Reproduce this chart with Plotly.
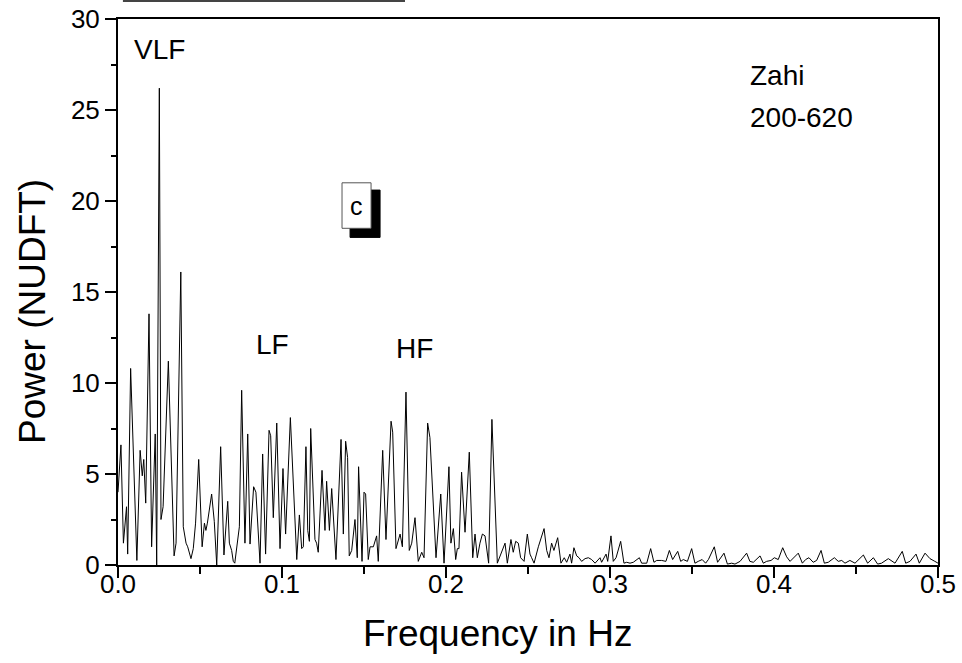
import plotly.graph_objects as go

# Frequency (Hz) and NUDFT power
freq = [
    0.0000, 0.0018, 0.0033, 0.0052, 0.0059, 0.0077, 0.0115, 0.0135, 0.0148, 0.0157,
    0.0169, 0.0189, 0.0205, 0.0227, 0.0236, 0.0252, 0.0262, 0.0275, 0.0307, 0.0342,
    0.0354, 0.0383, 0.0398, 0.0415, 0.0425, 0.0445, 0.0459, 0.0473, 0.0492, 0.0509,
    0.0513, 0.0527, 0.0536, 0.0545, 0.0571, 0.0587, 0.0602, 0.0626, 0.0646, 0.0669,
    0.0679, 0.0693, 0.0703, 0.0712, 0.0728, 0.0740, 0.0754, 0.0774, 0.0791, 0.0805,
    0.0827, 0.0841, 0.0866, 0.0882, 0.0900, 0.0921, 0.0931, 0.0947, 0.0968, 0.0988,
    0.1006, 0.1022, 0.1051, 0.1090, 0.1106, 0.1120, 0.1130, 0.1146, 0.1157, 0.1167,
    0.1175, 0.1201, 0.1211, 0.1221, 0.1244, 0.1262, 0.1272, 0.1289, 0.1303, 0.1329,
    0.1360, 0.1374, 0.1388, 0.1400, 0.1410, 0.1425, 0.1445, 0.1459, 0.1467, 0.1488,
    0.1500, 0.1510, 0.1526, 0.1537, 0.1557, 0.1577, 0.1587, 0.1614, 0.1634, 0.1665,
    0.1675, 0.1695, 0.1720, 0.1734, 0.1756, 0.1776, 0.1791, 0.1811, 0.1831, 0.1852,
    0.1866, 0.1888, 0.1902, 0.1939, 0.1968, 0.1988, 0.2018, 0.2030, 0.2045, 0.2059,
    0.2069, 0.2079, 0.2095, 0.2116, 0.2142, 0.2163, 0.2177, 0.2191, 0.2207, 0.2222,
    0.2238, 0.2260, 0.2280, 0.2313, 0.2360, 0.2374, 0.2396, 0.2410, 0.2425, 0.2441,
    0.2455, 0.2476, 0.2496, 0.2512, 0.2522, 0.2537, 0.2563, 0.2598, 0.2614, 0.2628,
    0.2644, 0.2658, 0.2681, 0.2701, 0.2721, 0.2736, 0.2756, 0.2766, 0.2780, 0.2797,
    0.2811, 0.2827, 0.2848, 0.2868, 0.2888, 0.2909, 0.2939, 0.2949, 0.2976, 0.2986,
    0.3006, 0.3020, 0.3037, 0.3065, 0.3085, 0.3102, 0.3122, 0.3142, 0.3179, 0.3193,
    0.3224, 0.3248, 0.3268, 0.3285, 0.3315, 0.3341, 0.3362, 0.3382, 0.3413, 0.3431,
    0.3447, 0.3472, 0.3498, 0.3518, 0.3538, 0.3562, 0.3583, 0.3600, 0.3636, 0.3656,
    0.3695, 0.3716, 0.3742, 0.3762, 0.3793, 0.3833, 0.3853, 0.3874, 0.3915, 0.3935,
    0.3955, 0.3982, 0.4002, 0.4026, 0.4053, 0.4077, 0.4098, 0.4148, 0.4173, 0.4193,
    0.4213, 0.4239, 0.4260, 0.4287, 0.4307, 0.4331, 0.4368, 0.4392, 0.4413, 0.4433,
    0.4463, 0.4494, 0.4545, 0.4571, 0.4606, 0.4632, 0.4656, 0.4697, 0.4738, 0.4782,
    0.4803, 0.4829, 0.4866, 0.4886, 0.4921, 0.4951, 0.4981, 0.5000,
]
power = [
    4.0, 6.6, 1.2, 3.2, 0.6, 10.8, 0.25, 6.3, 4.9, 5.8,
    3.4, 13.8, 1.0, 7.2, 0.0, 26.2, 2.5, 3.2, 11.2, 0.5,
    1.2, 16.1, 2.1, 1.2, 1.0, 0.35, 0.9, 2.3, 5.8, 1.5,
    1.0, 2.3, 1.9, 2.3, 3.9, 2.4, 0.0, 6.5, 0.55, 3.5,
    1.2, 0.8, 0.2, 0.1, 1.2, 2.1, 9.6, 1.2, 7.2, 1.15,
    4.3, 4.0, 0.1, 6.1, 0.6, 7.4, 7.1, 2.6, 7.8, 0.9,
    5.3, 1.7, 8.1, 0.3, 2.75, 0.9, 1.0, 6.5, 1.9, 1.3,
    7.5, 1.4, 1.2, 0.7, 5.2, 1.9, 4.6, 1.9, 4.2, 0.3,
    6.9, 1.7, 6.8, 5.9, 0.5, 0.8, 2.5, 0.4, 5.4, 0.2,
    4.0, 3.9, 0.3, 1.0, 1.0, 1.6, 0.2, 6.3, 1.4, 7.9,
    7.3, 0.9, 1.7, 1.0, 9.5, 0.8, 1.2, 2.6, 0.2, 0.7,
    0.4, 7.8, 7.0, 0.4, 3.9, 0.1, 5.4, 1.2, 2.0, 0.3,
    0.9, 0.9, 5.1, 1.8, 6.2, 0.4, 1.7, 0.4, 1.2, 1.7,
    1.6, 0.1, 8.0, 0.1, 1.2, 0.1, 1.4, 0.7, 1.3, 1.2,
    0.4, 0.2, 1.7, 0.6, 0.4, 0.1, 1.0, 2.0, 0.8, 0.4,
    1.2, 0.8, 1.5, 0.1, 0.4, 0.15, 0.6, 0.1, 0.95, 0.5,
    0.4, 0.2, 0.35, 0.4, 0.3, 0.1, 0.4, 0.15, 0.6, 0.2,
    1.6, 0.2, 0.4, 1.3, 0.1, 0.15, 0.1, 0.15, 0.4, 0.1,
    0.1, 0.9, 0.15, 0.25, 0.25, 0.2, 0.8, 0.3, 0.75, 0.2,
    0.3, 0.2, 0.9, 0.1, 0.2, 0.3, 0.1, 0.3, 1.0, 0.15,
    0.65, 0.05, 0.1, 0.05, 0.2, 0.65, 0.2, 0.15, 0.5, 0.1,
    0.2, 0.25, 0.4, 0.3, 0.95, 0.45, 0.2, 0.65, 0.1, 0.3,
    0.4, 0.15, 0.25, 0.8, 0.1, 0.15, 0.4, 0.2, 0.25, 0.1,
    0.25, 0.1, 0.55, 0.1, 0.4, 0.05, 0.1, 0.35, 0.1, 0.75,
    0.1, 0.2, 0.6, 0.1, 0.65, 0.35, 0.2, 0.1,
]

x_ticks = [0.0, 0.1, 0.2, 0.3, 0.4, 0.5]
x_tick_labels = ["0.0", "0.1", "0.2", "0.3", "0.4", "0.5"]
y_ticks = [0, 5, 10, 15, 20, 25, 30]
y_tick_labels = ["0", "5", "10", "15", "20", "25", "30"]

FONT = "Liberation Sans, Arial, sans-serif"

fig = go.Figure()
fig.add_trace(go.Scatter(
    x=freq, y=power, mode="lines",
    line=dict(color="black", width=1),
    hoverinfo="x+y", showlegend=False,
))

fig.update_layout(
    width=962, height=663,
    margin=dict(l=118, r=24, t=19, b=98),
    paper_bgcolor="white", plot_bgcolor="white",
    font=dict(family=FONT, color="black"),
    showlegend=False,
)

fig.update_xaxes(
    range=[0, 0.5], showgrid=False, zeroline=False, automargin=False,
    showline=True, linecolor="black", linewidth=2, mirror=True,
    ticks="outside", ticklen=11, tickwidth=2, tickcolor="black",
    tickvals=x_ticks, ticktext=x_tick_labels, ticklabelstandoff=-16,
    tickfont=dict(family=FONT, size=26, color="black"),
    minor=dict(dtick=0.05, ticks="outside", ticklen=7, tickwidth=2, tickcolor="black", showgrid=False),
)
fig.update_yaxes(
    range=[0, 30], showgrid=False, zeroline=False, automargin=False,
    showline=True, linecolor="black", linewidth=2, mirror=True,
    ticks="outside", ticklen=11, tickwidth=2, tickcolor="black",
    tickvals=y_ticks, ticktext=y_tick_labels,
    tickfont=dict(family=FONT, size=26, color="black"),
    minor=dict(dtick=2.5, ticks="outside", ticklen=5, tickwidth=2, tickcolor="black", showgrid=False),
)

annotations = [
    dict(text="VLF", x=0.0085, y=28.3, xanchor="left", yanchor="middle", font=dict(size=28)),
    dict(text="LF", x=0.0945, y=12.1, xanchor="center", yanchor="middle", font=dict(size=28)),
    dict(text="HF", x=0.181, y=11.9, xanchor="center", yanchor="middle", font=dict(size=28)),
    dict(text="Zahi", x=0.384, y=26.9, xanchor="left", yanchor="middle", font=dict(size=28)),
    dict(text="200-620", x=0.384, y=24.6, xanchor="left", yanchor="middle", font=dict(size=28)),
    dict(text="c", x=0.1456, y=19.7, xanchor="center", yanchor="middle", font=dict(size=25)),
    dict(text="Frequency in Hz", xref="paper", yref="paper", x=0.463, y=-0.125,
         xanchor="center", yanchor="middle", font=dict(size=37)),
    dict(text="Power (NUDFT)", xref="paper", yref="paper", x=-0.105, y=0.465,
         xanchor="center", yanchor="middle", textangle=-90, font=dict(size=37)),
]
for a in annotations:
    a.setdefault("xref", "x")
    a.setdefault("yref", "y")
    a["showarrow"] = False
    a["font"] = dict(family=FONT, color="black", size=a["font"]["size"])
fig.update_layout(annotations=annotations)

fig.update_layout(shapes=[
    # shadow of the panel label box
    dict(type="rect", xref="x", yref="y", x0=0.1415, x1=0.1598, y0=18.0, y1=20.6,
         fillcolor="black", line=dict(color="black", width=1), layer="above"),
    # panel label box
    dict(type="rect", xref="x", yref="y", x0=0.1366, x1=0.1543, y0=18.5, y1=21.0,
         fillcolor="white", line=dict(color="#555555", width=1), layer="above"),
    # partial line at the very top of the page
    dict(type="line", xref="x", yref="paper", x0=0.003, x1=0.175, y0=1.033, y1=1.033,
         line=dict(color="#444444", width=2)),
])

fig.write_html(
    "out.html",
    config={"displayModeBar": False},
    post_script="document.body.style.margin='0';document.body.style.overflow='hidden';",
)
